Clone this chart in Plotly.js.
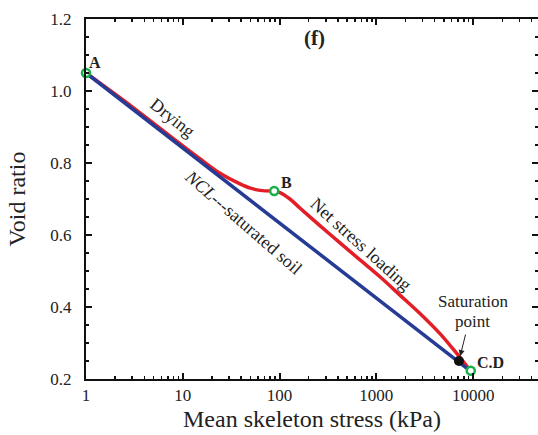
<!DOCTYPE html>
<html>
<head>
<meta charset="utf-8">
<script src="https://cdn.plot.ly/plotly-3.0.1.min.js"></script>
<style>html,body{margin:0;padding:0;background:#fff;}#chart{width:538px;height:435px;}</style>
</head>
<body>
<div id="chart"></div>
<script>
// NCL (saturated soil)
const nclStress = [1, 10, 100, 1000, 7130, 9400];
const nclVoid   = [1.05, 0.842, 0.634, 0.426, 0.250, 0.222];
// Drying path A -> B
const dryStress = [1, 3, 9, 15, 24, 39, 50, 63, 88];
const dryVoid   = [1.05, 0.956, 0.857, 0.812, 0.772, 0.742, 0.730, 0.724, 0.722];
// Net stress loading B -> C.D
const loadStress = [88, 101, 128, 162, 261, 421, 677, 1089, 1754, 2820, 4540, 6225, 7310, 9400];
const loadVoid   = [0.722, 0.718, 0.700, 0.675, 0.626, 0.578, 0.531, 0.484, 0.433, 0.382, 0.326, 0.283, 0.260, 0.222];
// Key points
const pointNames  = ["A", "B", "C.D"];
const pointStress = [1, 88, 9450];
const pointVoid   = [1.05, 0.722, 0.223];
const satStress = [7130];
const satVoid   = [0.250];
// Axis ticks
const xTickVals = [1, 10, 100, 1000, 10000];
const xTickText = ["1", "10", "100", "1000", "10000"];

const RED = "#e31e26", BLUE = "#263b94", GREEN = "#16b04a";
const FONT = "Liberation Serif, Times New Roman, serif";
const L = Math.log10;

const traces = [
  {x: dryStress, y: dryVoid, mode: "lines", line: {color: RED, width: 3.5, shape: "spline", smoothing: 0.8}, hoverinfo: "skip"},
  {x: loadStress, y: loadVoid, mode: "lines", line: {color: RED, width: 3.5, shape: "spline", smoothing: 0.8}, hoverinfo: "skip"},
  {x: nclStress, y: nclVoid, mode: "lines", line: {color: BLUE, width: 3.5}, hoverinfo: "skip"},
  {x: satStress, y: satVoid, mode: "markers", marker: {color: "#111", size: 10}, hoverinfo: "skip"},
  {x: pointStress, y: pointVoid, mode: "markers", cliponaxis: false,
   marker: {color: "#fff", size: 8, line: {color: GREEN, width: 2.5}}, hoverinfo: "skip"}
];

const ann = (x, y, text, extra) => Object.assign({
  x: L(x), y: y, xref: "x", yref: "y", text: text, showarrow: false,
  font: {family: FONT, size: 18, color: "#222"}
}, extra || {});

const annotations = [
  ann(232, 1.147, "<b>(f)</b>", {font: {family: FONT, size: 21, color: "#222"}}),
  ann(pointStress[0], pointVoid[0], "<b>" + pointNames[0] + "</b>", {xshift: 9, yshift: 11, font: {family: FONT, size: 16, color: "#222"}}),
  ann(pointStress[1], pointVoid[1], "<b>" + pointNames[1] + "</b>", {xshift: 12, yshift: 9, font: {family: FONT, size: 16, color: "#222"}}),
  ann(pointStress[2], pointVoid[2], "<b>" + pointNames[2] + "</b>", {xshift: 20, yshift: 8, font: {family: FONT, size: 16, color: "#222"}}),
  ann(7.9, 0.914, "Drying", {textangle: 38.5, yshift: 4}),
  ann(41.9, 0.641, "<i>NCL</i>---saturated soil", {textangle: 41, yshift: -2}),
  ann(694, 0.576, "Net stress loading", {textangle: 42}),
  ann(9890, 0.416, "Saturation", {font: {family: FONT, size: 17, color: "#222"}}),
  ann(9890, 0.360, "point", {font: {family: FONT, size: 17, color: "#222"}}),
  {x: L(satStress[0]), y: satVoid[0], xref: "x", yref: "y", text: "", showarrow: true,
   ax: 7, ay: -28, arrowhead: 2, arrowsize: 1.2, arrowwidth: 1, arrowcolor: "#222", standoff: 5}
];

const axisCommon = {
  showgrid: false, zeroline: false, showline: true, linecolor: "#111", linewidth: 2,
  ticks: "inside", tickcolor: "#111", tickwidth: 2, ticklen: 6,
  tickfont: {family: FONT, size: 17, color: "#222"}
};

const layout = {
  width: 538, height: 435,
  margin: {l: 86, r: 0, t: 19, b: 56},
  paper_bgcolor: "#fff", plot_bgcolor: "#fff",
  showlegend: false,
  xaxis: Object.assign({}, axisCommon, {
    type: "log", range: [0, 4.67], mirror: "allticks",
    tickvals: xTickVals, ticktext: xTickText,
    minor: {dtick: "D1", ticks: "inside", ticklen: 3, tickwidth: 1.5, tickcolor: "#111", showgrid: false},
    title: {text: "Mean skeleton stress (kPa)", font: {family: FONT, size: 24, color: "#222"}, standoff: 6}
  }),
  yaxis: Object.assign({}, axisCommon, {
    range: [0.2, 1.2], dtick: 0.2, tick0: 0.2, mirror: "ticks", tickformat: ".1f",
    ticklabelstandoff: 9,
    minor: {dtick: 0.05, ticks: "inside", ticklen: 3, tickwidth: 2, tickcolor: "#111", showgrid: false},
    title: {text: "Void ratio", font: {family: FONT, size: 24, color: "#222"}, standoff: 18}
  }),
  annotations: annotations
};

Plotly.newPlot("chart", traces, layout, {staticPlot: true, displayModeBar: false});
</script>
</body>
</html>
